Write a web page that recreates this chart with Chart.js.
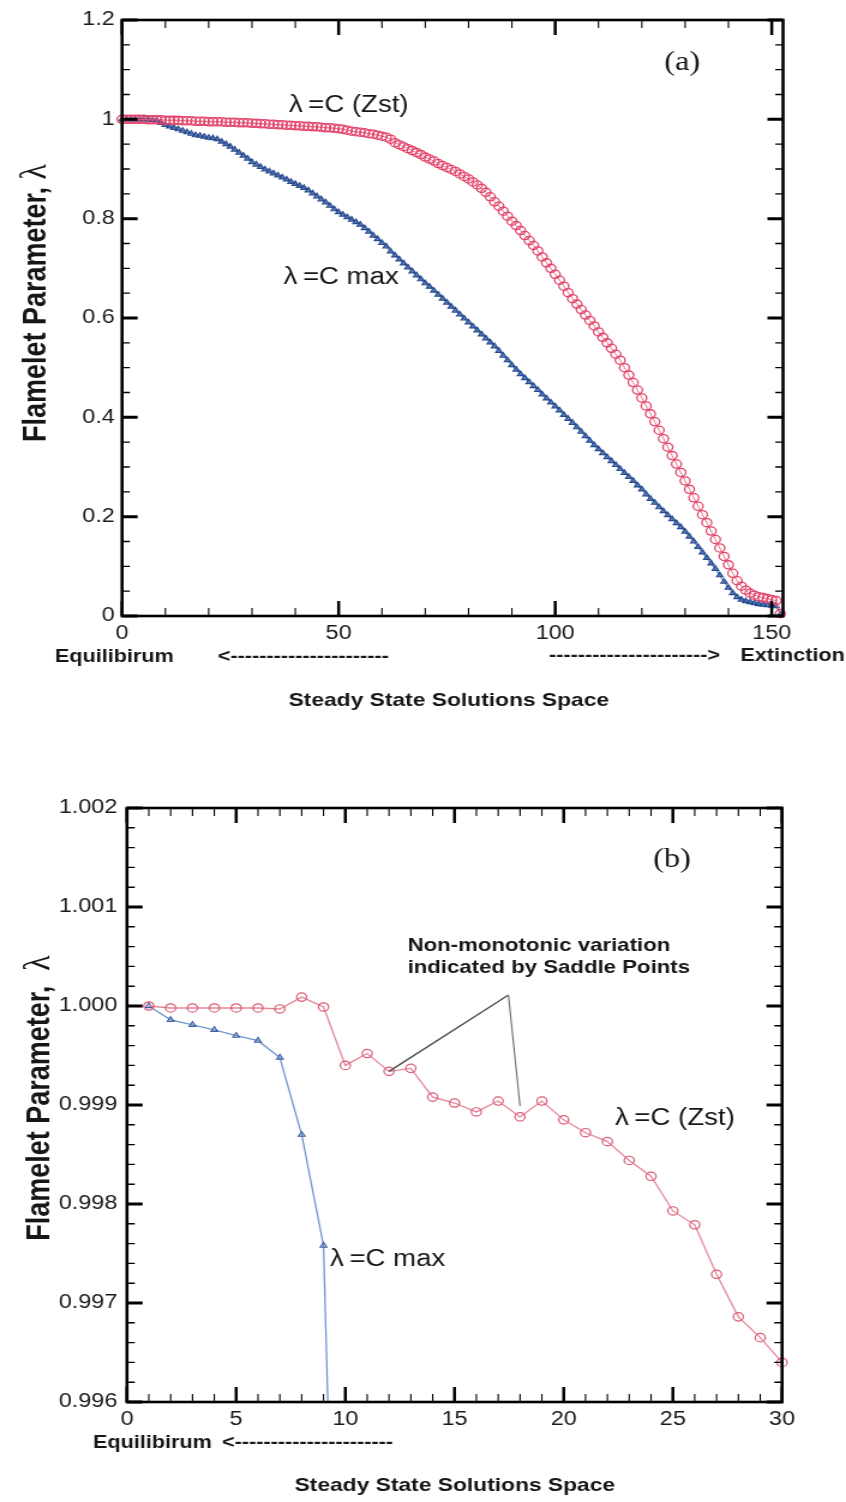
<!DOCTYPE html>
<html lang="en">
<head>
<meta charset="UTF-8">
<title>Flamelet Parameter along the Steady State Solutions</title>
<script src="https://cdn.jsdelivr.net/npm/chart.js"></script>
<style>
    body {
        margin: 0;
        background: #ffffff;
        width: 846px;
        height: 1502px;
        overflow: hidden;
    }
    /* both panels are laid out on a narrower canvas and widened to the page */
    .panel {
        position: absolute;
        left: 0;
        width: 705px;
        transform-origin: 0 0;
        transform: scaleX(1.2);
    }
    #panel-a { top: 0; height: 740px; }
    #panel-b { top: 740px; height: 762px; }
</style>
</head>
<body>
<div id="panel-a" class="panel"><canvas id="chart-a" width="705" height="740"></canvas></div>
<div id="panel-b" class="panel"><canvas id="chart-b" width="705" height="762"></canvas></div>

<script>
// (a) whole branch, one value per steady solution (index 0..152)
const zstA = [
    1.000, 1.000, 1.000, 1.000, 1.000, 1.000, 0.999, 0.999, 0.999, 0.999,
    0.998, 0.998, 0.998, 0.998, 0.997, 0.997, 0.997, 0.996, 0.996, 0.996,
    0.995, 0.995, 0.995, 0.995, 0.994, 0.994, 0.994, 0.993, 0.993, 0.993,
    0.992, 0.992, 0.991, 0.991, 0.990, 0.990, 0.989, 0.989, 0.988, 0.988,
    0.987, 0.987, 0.986, 0.986, 0.985, 0.985, 0.984, 0.983, 0.983, 0.982,
    0.981, 0.980, 0.978, 0.976, 0.975, 0.974, 0.973, 0.971, 0.970, 0.968,
    0.966, 0.964, 0.960, 0.953, 0.949, 0.945, 0.941, 0.937, 0.933, 0.929,
    0.924, 0.920, 0.916, 0.911, 0.907, 0.903, 0.899, 0.895, 0.890, 0.885,
    0.880, 0.874, 0.868, 0.861, 0.853, 0.844, 0.834, 0.825, 0.815, 0.805,
    0.795, 0.786, 0.776, 0.766, 0.756, 0.746, 0.735, 0.723, 0.711, 0.700,
    0.688, 0.676, 0.664, 0.651, 0.639, 0.628, 0.617, 0.606, 0.595, 0.584,
    0.572, 0.561, 0.550, 0.539, 0.527, 0.515, 0.500, 0.485, 0.470, 0.455,
    0.439, 0.423, 0.407, 0.391, 0.374, 0.357, 0.340, 0.323, 0.306, 0.289,
    0.272, 0.255, 0.238, 0.221, 0.204, 0.188, 0.171, 0.154, 0.137, 0.120,
    0.103, 0.086, 0.071, 0.060, 0.052, 0.046, 0.042, 0.039, 0.037, 0.035,
    0.033, 0.031, 0.005
];
const cmaxA = [
    1.000, 1.000, 1.000, 1.000, 1.000, 1.000, 1.000, 0.999, 0.998, 0.993,
    0.989, 0.986, 0.983, 0.980, 0.977, 0.974, 0.971, 0.968, 0.967, 0.965,
    0.963, 0.962, 0.960, 0.955, 0.950, 0.945, 0.939, 0.933, 0.927, 0.921,
    0.914, 0.909, 0.904, 0.899, 0.895, 0.891, 0.887, 0.883, 0.879, 0.874,
    0.870, 0.866, 0.862, 0.857, 0.851, 0.845, 0.839, 0.833, 0.826, 0.819,
    0.813, 0.808, 0.803, 0.798, 0.793, 0.788, 0.781, 0.774, 0.766, 0.759,
    0.751, 0.744, 0.734, 0.726, 0.718, 0.710, 0.702, 0.694, 0.686, 0.678,
    0.670, 0.663, 0.655, 0.647, 0.639, 0.631, 0.623, 0.615, 0.607, 0.599,
    0.591, 0.583, 0.575, 0.567, 0.559, 0.551, 0.543, 0.534, 0.524, 0.515,
    0.505, 0.496, 0.487, 0.479, 0.471, 0.463, 0.455, 0.446, 0.438, 0.430,
    0.422, 0.414, 0.405, 0.397, 0.389, 0.380, 0.371, 0.362, 0.353, 0.344,
    0.336, 0.328, 0.320, 0.312, 0.304, 0.296, 0.288, 0.280, 0.272, 0.263,
    0.255, 0.245, 0.236, 0.228, 0.219, 0.211, 0.203, 0.195, 0.187, 0.179,
    0.170, 0.160, 0.150, 0.139, 0.128, 0.117, 0.106, 0.095, 0.082, 0.069,
    0.057, 0.046, 0.038, 0.033, 0.030, 0.028, 0.026, 0.024, 0.023, 0.022,
    0.021, 0.020, 0.003
];
const stepsA = zstA.map((_, i) => i);

// (b) close-up of the first solutions near equilibrium
const stepsB = [1, 2, 3, 4, 5, 6, 7, 8, 9, 10, 11, 12, 13, 14, 15,
                16, 17, 18, 19, 20, 21, 22, 23, 24, 25, 26, 27, 28, 29, 30];
const zstB = [
    1.00000, 0.99998, 0.99998, 0.99998, 0.99998, 0.99998, 0.99997, 1.00009, 0.99999, 0.99940,
    0.99952, 0.99934, 0.99937, 0.99908, 0.99902, 0.99893, 0.99904, 0.99888, 0.99904, 0.99885,
    0.99872, 0.99863, 0.99844, 0.99828, 0.99793, 0.99779, 0.99729, 0.99686, 0.99665, 0.99640
];
const cmaxB = [1.00000, 0.99986, 0.99981, 0.99976, 0.99970, 0.99965, 0.99948, 0.99870, 0.99758, 0.98960];

const yTicksA = [0, 0.2, 0.4, 0.6, 0.8, 1.0, 1.2];
const xTicksB = [0, 5, 10, 15, 20, 25, 30];

const SANS = "'Liberation Sans', Arial, Helvetica, sans-serif";
const SERIF = "'Liberation Serif', 'Times New Roman', serif";

function points(xs, ys) {
    return ys.map((v, i) => ({ x: xs[i], y: v }));
}

// evenly spaced values between min and max, used for the minor tick marks
function spaced(min, max, step) {
    const out = [];
    const n = Math.floor((max - min) / step + 1e-6);
    for (let i = 0; i <= n; i++) out.push(min + i * step);
    return out;
}

// inward tick marks on all four sides and the heavy box around the plot
const framePlugin = {
    id: 'frame',
    afterDatasetsDraw(chart, args, opts) {
        const { ctx, chartArea: a, scales: { x, y } } = chart;
        ctx.save();
        ctx.strokeStyle = '#000';
        ctx.lineCap = 'butt';

        const vertical = (values, len, width) => {
            ctx.lineWidth = width;
            ctx.beginPath();
            values.forEach(v => {
                const px = x.getPixelForValue(v);
                ctx.moveTo(px, a.bottom); ctx.lineTo(px, a.bottom - len);
                ctx.moveTo(px, a.top); ctx.lineTo(px, a.top + len);
            });
            ctx.stroke();
        };
        const horizontal = (values, len, width) => {
            ctx.lineWidth = width;
            ctx.beginPath();
            values.forEach(v => {
                const py = y.getPixelForValue(v);
                ctx.moveTo(a.left, py); ctx.lineTo(a.left + len, py);
                ctx.moveTo(a.right, py); ctx.lineTo(a.right - len, py);
            });
            ctx.stroke();
        };

        vertical(spaced(x.min, x.max, opts.xMinor), 8, 1.1);
        horizontal(spaced(y.min, y.max, opts.yMinor), 6.5, 1.4);
        vertical(x.ticks.map(t => t.value), 15, 2.5);
        horizontal(y.ticks.map(t => t.value), 13, 3);

        ctx.lineWidth = 2.6;
        ctx.strokeRect(a.left, a.top, a.right - a.left, a.bottom - a.top);
        ctx.restore();
    }
};

// curve labels, leader lines, rotated axis title and the captions under the axis
const notesPlugin = {
    id: 'notes',
    afterDraw(chart, args, opts) {
        const { ctx, scales: { x, y } } = chart;
        ctx.save();

        (opts.leaders || []).forEach(l => {
            ctx.strokeStyle = l.color;
            ctx.lineWidth = l.width;
            ctx.beginPath();
            ctx.moveTo(x.getPixelForValue(l.from[0]), y.getPixelForValue(l.from[1]));
            ctx.lineTo(x.getPixelForValue(l.to[0]), y.getPixelForValue(l.to[1]));
            ctx.stroke();
        });

        ctx.fillStyle = '#161616';
        ctx.textBaseline = 'middle';
        (opts.labels || []).forEach(l => {
            ctx.font = l.font;
            ctx.textAlign = 'left';
            ctx.fillText(l.text, x.getPixelForValue(l.x), y.getPixelForValue(l.y));
        });

        (opts.captions || []).forEach(c => {
            ctx.font = c.font;
            ctx.textAlign = c.align;
            ctx.fillText(c.text, c.x, c.y);
        });

        const t = opts.yTitle;
        if (t) {
            ctx.translate(t.x, t.y);
            ctx.rotate(-Math.PI / 2);
            ctx.textAlign = 'left';
            let total = 0;
            t.parts.forEach(p => { ctx.font = p.font; total += ctx.measureText(p.text).width; });
            let pos = -total / 2;
            t.parts.forEach(p => {
                ctx.font = p.font;
                ctx.fillText(p.text, pos, p.dy || 0);
                pos += ctx.measureText(p.text).width;
            });
        }
        ctx.restore();
    }
};

const tickFont = { family: SANS, size: 19.5 };
const labelFont = `23px ${SANS}`;
const captionFont = `bold 18px ${SANS}`;
const titleFont = `bold 19px ${SANS}`;

// ---------- (a) ----------
new Chart(document.getElementById('chart-a'), {
    type: 'line',
    data: {
        datasets: [
            {
                label: 'λ=C (Zst)',
                data: points(stepsA, zstA),
                borderColor: '#ec6f8a',
                borderWidth: 1,
                pointStyle: 'circle',
                pointRadius: 4.1,
                pointBorderWidth: 1.3,
                pointBorderColor: '#e2436a',
                pointBackgroundColor: 'rgba(255,255,255,0)',
                clip: 6
            },
            {
                label: 'λ=C max',
                data: points(stepsA, cmaxA),
                borderColor: '#4f7cc2',
                borderWidth: 1.2,
                pointStyle: 'triangle',
                pointRadius: 3,
                pointBorderWidth: 1.2,
                pointBorderColor: '#274a8e',
                pointBackgroundColor: 'rgba(60,100,170,0.6)',
                clip: 6
            }
        ]
    },
    options: {
        responsive: false,
        animation: false,
        devicePixelRatio: 1,
        events: [],
        layout: { padding: { left: 0, top: 20, right: 52.5, bottom: 0 } },
        scales: {
            x: {
                type: 'linear',
                min: 0,
                max: 152.6,
                grid: { display: false, drawTicks: false },
                border: { display: false },
                ticks: { stepSize: 50, includeBounds: false, padding: 6, maxRotation: 0, color: '#1a1a1a', font: tickFont },
                afterFit: s => { s.height = 124; }
            },
            y: {
                type: 'linear',
                min: 0,
                max: 1.2,
                grid: { display: false, drawTicks: false },
                border: { display: false },
                afterBuildTicks: s => { s.ticks = yTicksA.map(v => ({ value: v })); },
                ticks: { padding: 6, color: '#1a1a1a', font: tickFont, callback: v => String(+v.toFixed(1)) },
                afterFit: s => { s.width = 101.7; }
            }
        },
        plugins: {
            legend: { display: false },
            tooltip: { enabled: false },
            frame: { xMinor: 10, yMinor: 0.05 },
            notes: {
                labels: [
                    { text: 'λ\u2009=C (Zst)', x: 38.5, y: 1.028, font: labelFont },
                    { text: 'λ\u2009=C max', x: 37.3, y: 0.681, font: labelFont },
                    { text: '(a)', x: 125.2, y: 1.114, font: `27px ${SERIF}` }
                ],
                captions: [
                    { text: 'Equilibirum', x: 45.8, y: 657, align: 'left', font: captionFont },
                    { text: '<----------------------', x: 181.5, y: 657, align: 'left', font: captionFont },
                    { text: '---------------------->', x: 600, y: 656, align: 'right', font: captionFont },
                    { text: 'Extinction', x: 704, y: 656, align: 'right', font: captionFont },
                    { text: 'Steady State Solutions Space', x: 374, y: 701, align: 'center', font: titleFont }
                ],
                yTitle: {
                    x: 31, y: 303,
                    parts: [
                        { text: 'Flamelet Parameter, ', font: `bold 27px ${SANS}` },
                        { text: 'λ', font: `32px ${SERIF}`, dy: -1 }
                    ]
                }
            }
        }
    },
    plugins: [framePlugin, notesPlugin]
});

// ---------- (b) ----------
new Chart(document.getElementById('chart-b'), {
    type: 'line',
    data: {
        datasets: [
            {
                label: 'λ=C (Zst)',
                data: points(stepsB, zstB),
                borderColor: '#e6879a',
                borderWidth: 1.3,
                pointStyle: 'circle',
                pointRadius: 4.2,
                pointBorderWidth: 1.2,
                pointBorderColor: '#dc5a76',
                pointBackgroundColor: 'rgba(255,255,255,0)',
                clip: { left: 8, top: 8, right: 8, bottom: 0 }
            },
            {
                label: 'λ=C max',
                data: points(stepsB, cmaxB),
                borderColor: '#6f95d0',
                borderWidth: 1.3,
                pointStyle: 'triangle',
                pointRadius: 3.2,
                pointBorderWidth: 1.1,
                pointBorderColor: '#3d5f9e',
                pointBackgroundColor: 'rgba(111,149,208,0.35)',
                clip: { left: 8, top: 8, right: 8, bottom: 0 }
            }
        ]
    },
    options: {
        responsive: false,
        animation: false,
        devicePixelRatio: 1,
        events: [],
        layout: { padding: { left: 0, top: 68, right: 53.3, bottom: 0 } },
        scales: {
            x: {
                type: 'linear',
                min: 0,
                max: 30,
                grid: { display: false, drawTicks: false },
                border: { display: false },
                afterBuildTicks: s => { s.ticks = xTicksB.map(v => ({ value: v })); },
                ticks: { padding: 6, maxRotation: 0, color: '#1a1a1a', font: tickFont },
                afterFit: s => { s.height = 100; }
            },
            y: {
                type: 'linear',
                min: 0.996,
                max: 1.002,
                grid: { display: false, drawTicks: false },
                border: { display: false },
                ticks: { stepSize: 0.001, padding: 8, color: '#1a1a1a', font: tickFont, callback: v => v.toFixed(3) },
                afterFit: s => { s.width = 105.8; }
            }
        },
        plugins: {
            legend: { display: false },
            tooltip: { enabled: false },
            frame: { xMinor: 1, yMinor: 0.0002 },
            notes: {
                leaders: [
                    { from: [17.47, 1.000111], to: [12, 0.99934], color: '#4d4d4d', width: 1.4 },
                    { from: [17.47, 1.000111], to: [18.0, 0.99899], color: '#6a6a6a', width: 1.1 }
                ],
                labels: [
                    { text: 'Non-monotonic variation', x: 12.85, y: 1.000606, font: `bold 18.5px ${SANS}` },
                    { text: 'indicated by Saddle Points', x: 12.85, y: 1.000384, font: `bold 18.5px ${SANS}` },
                    { text: 'λ\u2009=C (Zst)', x: 22.35, y: 0.998865, font: labelFont },
                    { text: 'λ\u2009=C max', x: 9.3, y: 0.997434, font: labelFont },
                    { text: '(b)', x: 24.1, y: 1.00148, font: `27px ${SERIF}` }
                ],
                captions: [
                    { text: 'Equilibirum', x: 77.5, y: 703, align: 'left', font: captionFont },
                    { text: '<----------------------', x: 185, y: 703, align: 'left', font: captionFont },
                    { text: 'Steady State Solutions Space', x: 379, y: 746, align: 'center', font: titleFont }
                ],
                yTitle: {
                    x: 33.5, y: 358,
                    parts: [
                        { text: 'Flamelet Parameter,  ', font: `bold 27px ${SANS}` },
                        { text: 'λ', font: `32px ${SERIF}`, dy: -1 }
                    ]
                }
            }
        }
    },
    plugins: [framePlugin, notesPlugin]
});
</script>
</body>
</html>
